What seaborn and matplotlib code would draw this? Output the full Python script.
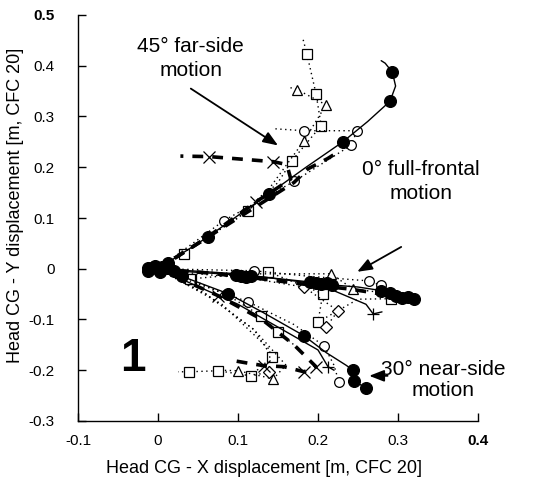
import numpy as np
import matplotlib
matplotlib.use("Agg")
import matplotlib.pyplot as plt
import seaborn as sns

# ---------------- data ----------------
x_ticks = [-0.1, 0.0, 0.1, 0.2, 0.3, 0.4]
x_tick_labels = ["-0.1", "0", "0.1", "0.2", "0.3", "0.4"]
y_ticks = [-0.3, -0.2, -0.1, 0.0, 0.1, 0.2, 0.3, 0.4, 0.5]
y_tick_labels = ["-0.3", "-0.2", "-0.1", "0", "0.1", "0.2", "0.3", "0.4", "0.5"]

# 45 deg far-side
far_fill_x = [-0.012, -0.004, 0.005, 0.012, 0.03, 0.0625, 0.10, 0.139, 0.185, 0.231, 0.262, 0.29, 0.297, 0.293, 0.284, 0.279]
far_fill_y = [0.002, 0.006, 0.004, 0.012, 0.03, 0.063, 0.105, 0.148, 0.20, 0.25, 0.29, 0.33, 0.36, 0.387, 0.405, 0.41]
far_sq_x = [0.0, 0.0325, 0.075, 0.1125, 0.15, 0.1675, 0.204, 0.1975, 0.186, 0.181]
far_sq_y = [0.0, 0.03, 0.075, 0.114, 0.17, 0.213, 0.282, 0.345, 0.424, 0.454]
far_tri_x = [0.0, 0.05, 0.10, 0.14, 0.1825, 0.21, 0.174, 0.165]
far_tri_y = [0.0, 0.05, 0.10, 0.16, 0.252, 0.323, 0.353, 0.357]
far_circ_x = [0.0, 0.0825, 0.17, 0.241, 0.249, 0.1825, 0.144]
far_circ_y = [0.0, 0.095, 0.172, 0.243, 0.272, 0.272, 0.276]
far_x_x = [0.0, 0.06, 0.1225, 0.15, 0.166, 0.1625, 0.156, 0.144, 0.064, 0.028]
far_x_y = [0.0, 0.06, 0.132, 0.16, 0.177, 0.197, 0.207, 0.211, 0.221, 0.222]
far_dash_x = [0.0, 0.06, 0.12, 0.17, 0.1875, 0.2, 0.212, 0.222]
far_dash_y = [0.0, 0.06, 0.12, 0.17, 0.197, 0.207, 0.217, 0.227]

# 0 deg full-frontal
fr_fill_x = [-0.012, -0.005, 0.003, 0.012, 0.02, 0.098, 0.104, 0.11, 0.116, 0.19, 0.197, 0.204, 0.211, 0.218, 0.25, 0.279, 0.29, 0.2975, 0.305, 0.312, 0.32, 0.322]
fr_fill_y = [-0.004, 0.003, -0.006, 0.002, -0.004, -0.012, -0.014, -0.016, -0.014, -0.026, -0.028, -0.03, -0.028, -0.032, -0.036, -0.043, -0.048, -0.053, -0.058, -0.056, -0.06, -0.052]
fr_sq_x = [0.0, 0.041, 0.1375, 0.206, 0.2, 0.25, 0.291]
fr_sq_y = [0.0, -0.02, -0.006, -0.049, -0.105, -0.06, -0.059]
fr_dia_x = [0.0, 0.05, 0.12, 0.1825, 0.225, 0.21]
fr_dia_y = [0.0, -0.01, -0.02, -0.036, -0.083, -0.115]
fr_circ_x = [0.0, 0.06, 0.12, 0.19, 0.264, 0.279]
fr_circ_y = [0.0, -0.002, -0.004, -0.015, -0.024, -0.033]
fr_tri_x = [0.0, 0.1, 0.216, 0.244, 0.27]
fr_tri_y = [0.0, -0.01, -0.01, -0.04, -0.045]
fr_dash_x = [0.0, 0.06, 0.12, 0.18, 0.24, 0.28, 0.30]
fr_dash_y = [0.0, -0.008, -0.018, -0.03, -0.04, -0.05, -0.055]
fr_plus_x = [0.0, 0.1, 0.2, 0.26, 0.269, 0.28]
fr_plus_y = [0.0, -0.01, -0.03, -0.07, -0.089, -0.085]

# 30 deg near-side
ns_fill_x = [0.0, 0.03, 0.0875, 0.13, 0.1825, 0.21, 0.235, 0.244, 0.245, 0.26]
ns_fill_y = [0.0, -0.015, -0.049, -0.085, -0.132, -0.165, -0.19, -0.2, -0.221, -0.235]
ns_circ_x = [0.0, 0.05, 0.1125, 0.17, 0.2075, 0.22, 0.226]
ns_circ_y = [0.0, -0.03, -0.065, -0.11, -0.152, -0.19, -0.223]
ns_sq_x = [0.0, 0.04, 0.09, 0.129, 0.15, 0.17]
ns_sq_y = [0.0, -0.02, -0.055, -0.093, -0.124, -0.15]
ns_sq2_x = [0.0, 0.06, 0.12, 0.1425, 0.116, 0.075, 0.039, 0.025]
ns_sq2_y = [0.0, -0.05, -0.12, -0.174, -0.211, -0.201, -0.203, -0.203]
ns_tri_x = [0.0, 0.06, 0.12, 0.16, 0.144, 0.10, 0.08]
ns_tri_y = [0.0, -0.05, -0.12, -0.19, -0.217, -0.201, -0.2]
ns_x_x = [0.0, 0.075, 0.13, 0.17, 0.1975, 0.1825, 0.1575, 0.1325, 0.116, 0.094]
ns_x_y = [0.0, -0.053, -0.10, -0.15, -0.193, -0.203, -0.193, -0.191, -0.187, -0.181]
ns_dia_x = [0.0, 0.08, 0.14, 0.139, 0.12]
ns_dia_y = [0.0, -0.07, -0.16, -0.203, -0.21]
ns_plus_x = [0.0, 0.1, 0.2, 0.2125, 0.22]
ns_plus_y = [0.0, -0.07, -0.16, -0.193, -0.2]

# ---------------- styling ----------------
sns.set_style("ticks")
plt.rcParams["font.family"] = ["Liberation Sans", "DejaVu Sans"]
plt.rcParams["text.color"] = "black"
plt.rcParams["axes.labelcolor"] = "black"
plt.rcParams["xtick.color"] = "black"
plt.rcParams["ytick.color"] = "black"

fig = plt.figure(figsize=(5.39, 4.90), dpi=100)
ax = fig.add_axes([78 / 539, 1 - 421 / 490, 400 / 539, 406 / 490])

SOLID = dict(linestyle="-", linewidth=1.0)
DOT = dict(linestyle=(0, (1, 2.5)), linewidth=1.0)
THICK = dict(linestyle=(0, (3, 2.5)), linewidth=2.6)

def series(x, y, marker, every, style, size=7, filled=False, mew=0.9):
    sns.lineplot(x=np.array(x), y=np.array(y), sort=False, estimator=None, ax=ax,
                 color="black", marker=marker, markevery=every, markersize=size,
                 markerfacecolor="black" if filled else "white",
                 markeredgecolor="black", markeredgewidth=mew, **style)

# far-side
series(far_sq_x, far_sq_y, "s", [1, 3, 5, 6, 7, 8], DOT)
series(far_tri_x, far_tri_y, "^", [4, 5, 6], DOT)
series(far_circ_x, far_circ_y, "o", [1, 2, 3, 4, 5], DOT)
series(far_dash_x, far_dash_y, None, None, THICK)
series(far_x_x, far_x_y, "x", [2, 7, 8], THICK, size=8)
series(far_fill_x, far_fill_y, "o", [0, 1, 2, 3, 5, 7, 9, 11, 13], SOLID, size=8.5, filled=True)

# frontal
series(fr_sq_x, fr_sq_y, "s", [1, 2, 3, 4, 6], DOT)
series(fr_dia_x, fr_dia_y, "D", [3, 4, 5], DOT, size=6)
series(fr_circ_x, fr_circ_y, "o", [2, 4, 5], DOT)
series(fr_tri_x, fr_tri_y, "^", [2, 3], DOT)
series(fr_dash_x, fr_dash_y, None, None, THICK)
series(fr_plus_x, fr_plus_y, "+", [4], SOLID, size=9)
series(fr_fill_x, fr_fill_y, "o", [0, 1, 2, 3, 4, 5, 6, 7, 8, 9, 10, 11, 12, 13, 15, 16, 17, 18, 19, 20],
       SOLID, size=8.5, filled=True)

# near-side
series(ns_sq_x, ns_sq_y, "s", [1, 3, 4], DOT)
series(ns_sq2_x, ns_sq2_y, "s", [3, 4, 5, 6], DOT)
series(ns_tri_x, ns_tri_y, "^", [4, 5], DOT)
series(ns_dia_x, ns_dia_y, "D", [3], DOT, size=6)
series(ns_circ_x, ns_circ_y, "o", [2, 4, 6], DOT)
series(ns_plus_x, ns_plus_y, "+", [3], SOLID, size=9)
series(ns_x_x, ns_x_y, "x", [1, 4, 5, 7], THICK, size=8)
series(ns_fill_x, ns_fill_y, "o", [0, 1, 2, 4, 7, 8, 9], SOLID, size=8.5, filled=True)

# ---------------- axes ----------------
ax.set_xlim(-0.1, 0.4)
ax.set_ylim(-0.3, 0.5)
ax.set_xticks(x_ticks)
ax.set_xticklabels(x_tick_labels)
ax.set_yticks(y_ticks)
ax.set_yticklabels(y_tick_labels)
ax.get_xticklabels()[-1].set_fontweight("bold")
ax.get_yticklabels()[-1].set_fontweight("bold")
ax.tick_params(axis="both", direction="in", length=6, width=1, colors="black", labelsize=11)
ax.tick_params(axis="x", pad=9)
ax.tick_params(axis="y", pad=17)
sns.despine(ax=ax)
for s in ["left", "bottom"]:
    ax.spines[s].set_linewidth(1.0)
    ax.spines[s].set_color("black")

ax.set_xlabel("Head CG - X displacement [m, CFC 20]", fontsize=13, color="black")
ax.set_ylabel("Head CG - Y displacement [m, CFC 20]", fontsize=13, color="black")
ax.xaxis.set_label_coords(0.466, -0.095)
ax.yaxis.set_label_coords(-0.135, 0.532)

# ---------------- annotations ----------------
ARROW = dict(arrowstyle="-|>,head_length=0.9,head_width=0.35", color="black", lw=1.3,
             shrinkA=0, shrinkB=0)
ax.text(0.041, 0.414, "45° far-side\nmotion", ha="center", va="center", fontsize=15, linespacing=1.35)
ax.annotate("", xy=(0.150, 0.243), xytext=(0.041, 0.355), arrowprops=ARROW)
ax.text(0.329, 0.172, "0° full-frontal\nmotion", ha="center", va="center", fontsize=15, linespacing=1.3)
ax.annotate("", xy=(0.249, -0.006), xytext=(0.304, 0.043), arrowprops=ARROW)
ax.text(0.356, -0.219, "30° near-side\nmotion", ha="center", va="center", fontsize=15, linespacing=1.15)
ax.annotate("", xy=(0.264, -0.211), xytext=(0.287, -0.211), arrowprops=ARROW)
ax.text(-0.031, -0.178, "1", ha="center", va="center", fontsize=33, fontweight="bold", color="black")

fig.savefig("out.png", dpi=100)
